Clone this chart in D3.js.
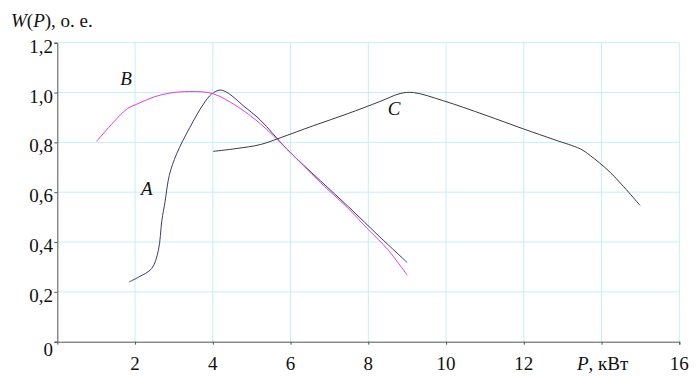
<!DOCTYPE html>
<html><head><meta charset="utf-8">
<script src="https://cdn.jsdelivr.net/npm/d3@7"></script>
<style>body{margin:0;background:#fff}svg{display:block}svg text,svg tspan{font-family:"Liberation Serif" !important}</style>
</head><body>
<svg id="c" width="696" height="376" font-family="Liberation Serif"></svg>
<script>
const xTicks = [2,4,6,8,10,12,14,16];
const xTickLabels = ["2","4","6","8","10","12","","16"];
const yTicks = [0,0.2,0.4,0.6,0.8,1.0,1.2];
const yTickLabels = ["0","0,2","0,4","0,6","0,8","1,0","1,2"];
const seriesA = [[1.85,0.24],[2.1,0.26],[2.43,0.294],[2.6,0.367],[2.69,0.487],[2.77,0.56],[2.88,0.667],[3.07,0.754],[3.41,0.86],[3.76,0.954],[3.97,0.994],[4.19,1.01],[4.4,0.997],[4.8,0.945],[5.22,0.89],[5.9,0.774],[6.76,0.647],[7.5,0.54],[8.3,0.42],[9.0,0.318]];
const seriesB = [[1.01,0.804],[1.44,0.88],[1.8,0.935],[2.1,0.957],[2.5,0.983],[2.9,0.998],[3.41,1.004],[3.99,0.996],[4.62,0.945],[5.22,0.875],[5.9,0.774],[6.76,0.64],[7.45,0.54],[8.0,0.45],[8.5,0.37],[9.0,0.267]];
const seriesC = [[4.01,0.764],[4.6,0.775],[5.22,0.791],[5.73,0.818],[6.59,0.867],[7.45,0.914],[8.3,0.964],[8.82,0.996],[9.16,1.0],[9.93,0.967],[11.0,0.91],[11.99,0.854],[12.8,0.81],[13.45,0.774],[13.71,0.747],[14.22,0.68],[14.99,0.547]];
const curveLabels = [{t:"A",x:2.15,y:0.59},{t:"B",x:1.62,y:1.03},{t:"C",x:8.5,y:0.91}];

const svg = d3.select("#c");
const x = d3.scaleLinear().domain([0,16]).range([57.3,679.3]);
const y = d3.scaleLinear().domain([0,1.2]).range([341.7,42.7]);

// grid
svg.append("g").selectAll("line").data(xTicks).join("line")
  .attr("x1",d=>x(d)).attr("x2",d=>x(d)).attr("y1",y(0)).attr("y2",y(1.2))
  .attr("stroke","#c4eff7").attr("stroke-width",1);
svg.append("g").selectAll("line").data(yTicks.filter(d=>d>0)).join("line")
  .attr("x1",x(0)).attr("x2",x(16)).attr("y1",d=>y(d)).attr("y2",d=>y(d))
  .attr("stroke","#c4eff7").attr("stroke-width",1);

// axes
const xa = svg.append("g").attr("transform",`translate(0,${y(0)})`)
  .call(d3.axisBottom(x).tickValues(xTicks).tickSize(3).tickFormat(""));
const ya = svg.append("g").attr("transform",`translate(${x(0)},0)`)
  .call(d3.axisLeft(y).tickValues(yTicks).tickSize(3).tickFormat(""));
[xa,ya].forEach(g=>{g.attr("font-family",null);g.selectAll("path,line").attr("stroke","#555");});

const ff = "Liberation Serif";
svg.append("g").selectAll("text").data(xTicks).join("text")
  .attr("x",d=>x(d)).attr("y",370).attr("text-anchor","middle")
  .style("font-family",ff).attr("font-size",19).attr("fill","#111").text((d,i)=>xTickLabels[i]);
svg.append("g").selectAll("text").data(yTicks).join("text")
  .attr("x",53).attr("y",d=>y(d)+(d===0?14:10)).attr("text-anchor","end")
  .style("font-family",ff).attr("font-size",19).attr("fill","#111").text((d,i)=>yTickLabels[i]);

// axis titles
const xt = svg.append("text").attr("x",577).attr("y",370).style("font-family",ff).attr("font-size",19).attr("fill","#111");
xt.append("tspan").attr("font-style","italic").text("P");
xt.append("tspan").text(", кВт");
const yt = svg.append("text").attr("x",11).attr("y",27).style("font-family",ff).attr("font-size",19).attr("fill","#111");
yt.append("tspan").attr("font-style","italic").text("W");
yt.append("tspan").text("(");
yt.append("tspan").attr("font-style","italic").text("P");
yt.append("tspan").text("), о. е.");

// lines
const line = d3.line().x(d=>x(d[0])).y(d=>y(d[1])).curve(d3.curveCatmullRom.alpha(0.5));
svg.append("path").datum(seriesC).attr("d",line).attr("fill","none").attr("stroke","#3a3a3a").attr("stroke-width",1);
svg.append("path").datum(seriesA).attr("d",line).attr("fill","none").attr("stroke","#3b3b78").attr("stroke-width",1);
svg.append("path").datum(seriesB).attr("d",line).attr("fill","none").attr("stroke","#e040e0").attr("stroke-width",1);

svg.append("g").selectAll("text").data(curveLabels).join("text")
  .attr("x",d=>x(d.x)).attr("y",d=>y(d.y)).style("font-family",ff).attr("font-size",19).attr("font-style","italic").attr("fill","#111")
  .text(d=>d.t);
</script>
</body></html>
